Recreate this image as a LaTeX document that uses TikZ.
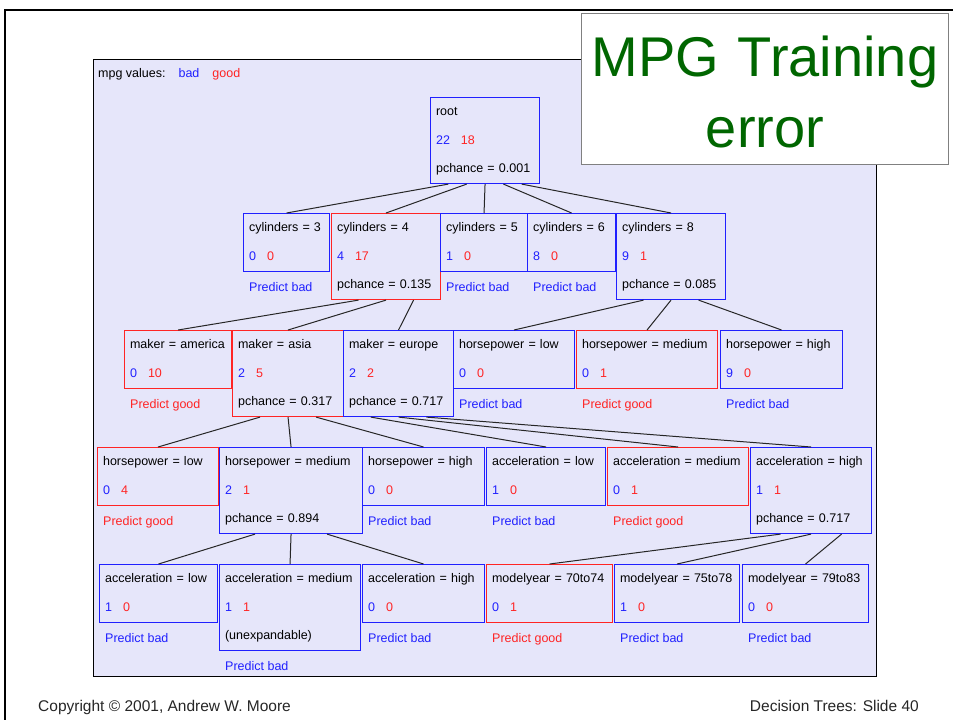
\documentclass[tikz,border=0pt]{standalone}
\usepackage{fontspec}
\setmainfont{Liberation Sans}
\usetikzlibrary{calc}
\definecolor{mpgbad}{RGB}{32,32,255}
\definecolor{mpggood}{RGB}{255,36,36}
\definecolor{panel}{RGB}{230,230,250}
\definecolor{titlegreen}{RGB}{0,102,0}
\newcommand\treetext{\fontsize{12.5pt}{28.5pt}\selectfont}
\newcommand\counts[2]{\textcolor{mpgbad}{#1}\hspace{11pt}\textcolor{mpggood}{#2}}
\tikzset{
  tbox/.style={draw, anchor=north west, inner xsep=5.5pt, inner ysep=0pt,
    line width=1.1pt, text height=18pt, align=left, font=\treetext},
  twoline/.style={text depth=40pt},
  threeline/.style={text depth=68pt},
  bw/.style={text width=#1-11pt},
  bad/.style={tbox, draw=mpgbad},
  good/.style={tbox, draw=mpggood},
  predbad/.style={anchor=base west, font=\treetext, text=mpgbad, inner sep=0pt},
  predgood/.style={predbad, text=mpggood},
  branch/.style={line width=1pt, draw=black!85},
  foot/.style={font=\fontsize{15.5pt}{18pt}\selectfont, text=black!85, inner sep=0pt}
}
\begin{document}
\begin{tikzpicture}[x=1pt,y=-1pt]
  \useasboundingbox (0,0) rectangle (953,720);
  % slide frame and tree panel
  \draw[line width=2.5pt] (5,720) -- (5,10) -- (953,10);
  \draw[fill=panel, line width=1pt] (93,59) rectangle (876,676);
  \node[anchor=base west, font=\treetext, inner sep=0pt] (legend) at (98,77)
    {mpg values:\hspace{13pt}\textcolor{mpgbad}{bad}\hspace{13pt}\textcolor{mpggood}{good}};

  % level 0
  \node[bad, threeline, bw=109pt] (root) at (430,97) {root\\\counts{22}{18}\\pchance = 0.001};

  % level 1
  \node[bad, twoline, bw=86pt] (c3) at (243,213) {cylinders = 3\\\counts{0}{0}};
  \node[good, threeline, bw=109pt] (c4) at (331,213) {cylinders = 4\\\counts{4}{17}\\pchance = 0.135};
  \node[bad, twoline, bw=87pt] (c5) at (440,213) {cylinders = 5\\\counts{1}{0}};
  \node[bad, twoline, bw=88pt] (c6) at (527,213) {cylinders = 6\\\counts{8}{0}};
  \node[bad, threeline, bw=109pt] (c8) at (616,213) {cylinders = 8\\\counts{9}{1}\\pchance = 0.085};
  \node[predbad] (c3p) at ([shift={(6,19)}]c3.south west) {Predict bad};
  \node[predbad] (c5p) at ([shift={(6,19)}]c5.south west) {Predict bad};
  \node[predbad] (c6p) at ([shift={(6,19)}]c6.south west) {Predict bad};

  % level 2
  \node[good, twoline, bw=107pt] (america) at (124,330) {maker = america\\\counts{0}{10}};
  \node[good, threeline, bw=111pt] (asia) at (232,330) {maker = asia\\\counts{2}{5}\\pchance = 0.317};
  \node[bad, threeline, bw=110pt] (europe) at (343,330) {maker = europe\\\counts{2}{2}\\pchance = 0.717};
  \node[bad, twoline, bw=121pt] (hplow) at (453,330) {horsepower = low\\\counts{0}{0}};
  \node[good, twoline, bw=141pt] (hpmed) at (576,330) {horsepower = medium\\\counts{0}{1}};
  \node[bad, twoline, bw=122pt] (hphigh) at (720,330) {horsepower = high\\\counts{9}{0}};
  \node[predgood] (americap) at ([shift={(6,19)}]america.south west) {Predict good};
  \node[predbad] (hplowp) at ([shift={(6,19)}]hplow.south west) {Predict bad};
  \node[predgood] (hpmedp) at ([shift={(6,19)}]hpmed.south west) {Predict good};
  \node[predbad] (hphighp) at ([shift={(6,19)}]hphigh.south west) {Predict bad};

  % level 3
  \node[good, twoline, bw=121pt] (ahplow) at (97,447) {horsepower = low\\\counts{0}{4}};
  \node[bad, threeline, bw=143pt] (ahpmed) at (219,447) {horsepower = medium\\\counts{2}{1}\\pchance = 0.894};
  \node[bad, twoline, bw=122pt] (ahphigh) at (362,447) {horsepower = high\\\counts{0}{0}};
  \node[bad, twoline, bw=119pt] (eacclow) at (486,447) {acceleration = low\\\counts{1}{0}};
  \node[good, twoline, bw=141pt] (eaccmed) at (607,447) {acceleration = medium\\\counts{0}{1}};
  \node[bad, threeline, bw=121pt] (eacchigh) at (750,447) {acceleration = high\\\counts{1}{1}\\pchance = 0.717};
  \node[predgood] (ahplowp) at ([shift={(6,19)}]ahplow.south west) {Predict good};
  \node[predbad] (ahphighp) at ([shift={(6,19)}]ahphigh.south west) {Predict bad};
  \node[predbad] (eacclowp) at ([shift={(6,19)}]eacclow.south west) {Predict bad};
  \node[predgood] (eaccmedp) at ([shift={(6,19)}]eaccmed.south west) {Predict good};

  % level 4
  \node[bad, twoline, bw=118pt] (acclow) at (99,564) {acceleration = low\\\counts{1}{0}};
  \node[bad, threeline, bw=141pt] (accmed) at (219,564) {acceleration = medium\\\counts{1}{1}\\(unexpandable)};
  \node[bad, twoline, bw=122pt] (acchigh) at (362,564) {acceleration = high\\\counts{0}{0}};
  \node[good, twoline, bw=126pt] (my70) at (486,564) {modelyear = 70to74\\\counts{0}{1}};
  \node[bad, twoline, bw=125pt] (my75) at (614,564) {modelyear = 75to78\\\counts{1}{0}};
  \node[bad, twoline, bw=126pt] (my79) at (742,564) {modelyear = 79to83\\\counts{0}{0}};
  \node[predbad] (acclowp) at ([shift={(6,19)}]acclow.south west) {Predict bad};
  \node[predbad] (accmedp) at ([shift={(6,19)}]accmed.south west) {Predict bad};
  \node[predbad] (acchighp) at ([shift={(6,19)}]acchigh.south west) {Predict bad};
  \node[predgood] (my70p) at ([shift={(6,19)}]my70.south west) {Predict good};
  \node[predbad] (my75p) at ([shift={(6,19)}]my75.south west) {Predict bad};
  \node[predbad] (my79p) at ([shift={(6,19)}]my79.south west) {Predict bad};

  % branches
  \draw[branch] ($(root.south west)!.167!(root.south east)$) -- (c3.north)
    ($(root.south west)!.333!(root.south east)$) -- (c4.north)
    ($(root.south west)!.5!(root.south east)$) -- (c5.north)
    ($(root.south west)!.667!(root.south east)$) -- (c6.north)
    ($(root.south west)!.833!(root.south east)$) -- (c8.north);
  \draw[branch] ($(c4.south west)!.25!(c4.south east)$) -- (america.north)
    ($(c4.south west)!.5!(c4.south east)$) -- (asia.north)
    ($(c4.south west)!.75!(c4.south east)$) -- (europe.north);
  \draw[branch] ($(c8.south west)!.25!(c8.south east)$) -- (hplow.north)
    ($(c8.south west)!.5!(c8.south east)$) -- (hpmed.north)
    ($(c8.south west)!.75!(c8.south east)$) -- (hphigh.north);
  \draw[branch] ($(asia.south west)!.25!(asia.south east)$) -- (ahplow.north)
    ($(asia.south west)!.5!(asia.south east)$) -- (ahpmed.north)
    ($(asia.south west)!.75!(asia.south east)$) -- (ahphigh.north);
  \draw[branch] ($(europe.south west)!.25!(europe.south east)$) -- (eacclow.north)
    ($(europe.south west)!.5!(europe.south east)$) -- (eaccmed.north)
    ($(europe.south west)!.75!(europe.south east)$) -- (eacchigh.north);
  \draw[branch] ($(ahpmed.south west)!.25!(ahpmed.south east)$) -- (acclow.north)
    ($(ahpmed.south west)!.5!(ahpmed.south east)$) -- (accmed.north)
    ($(ahpmed.south west)!.75!(ahpmed.south east)$) -- (acchigh.north);
  \draw[branch] ($(eacchigh.south west)!.25!(eacchigh.south east)$) -- (my70.north)
    ($(eacchigh.south west)!.5!(eacchigh.south east)$) -- (my75.north)
    ($(eacchigh.south west)!.75!(eacchigh.south east)$) -- (my79.north);

  % title and footer
  \node[draw=gray, fill=white, line width=1pt, anchor=north west, inner sep=0pt,
    text width=367pt, text height=63pt, text depth=88pt, align=center, text=titlegreen,
    font=\fontsize{56pt}{71pt}\selectfont] (title) at (581,13) {MPG Training\\error};
  \node[foot, anchor=base west] (copy) at (38,711) {Copyright © 2001, Andrew W. Moore};
  \node[foot, anchor=base east] (slide) at (919,711) {Decision Trees: Slide 40};
\end{tikzpicture}
\end{document}
